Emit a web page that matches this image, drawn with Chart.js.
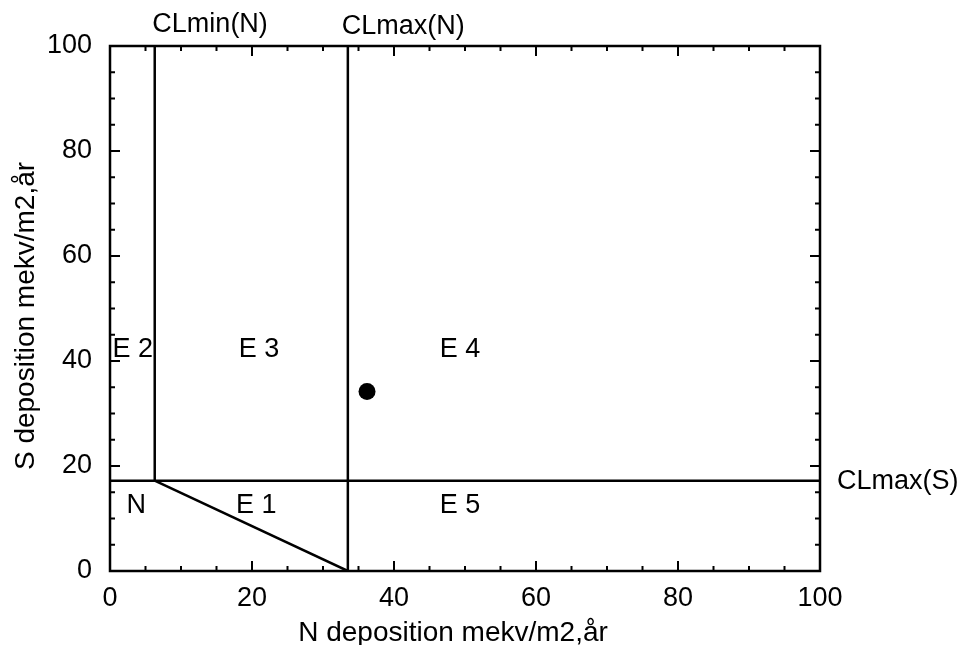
<!DOCTYPE html>
<html>
<head>
<meta charset="utf-8">
<script src="https://cdn.jsdelivr.net/npm/chart.js@4.4.1/dist/chart.umd.min.js"></script>
<style>
  html, body { margin: 0; padding: 0; background: #fff; }
  #chart { display: block; }
</style>
</head>
<body>
<canvas id="chart" width="964" height="645"></canvas>
<script>
// ============ DATA ============
const CL_MIN_N = 6.3;    // mekv/m2,år
const CL_MAX_N = 33.5;
const CL_MAX_S = 17.2;

const pointN = [36.2];
const pointS = [34.2];

const majorTicks = [0, 20, 40, 60, 80, 100];
const minorTicks = [5, 10, 15, 25, 30, 35, 45, 50, 55, 65, 70, 75, 85, 90, 95];

const regionTexts = ["E 2", "E 3", "E 4", "N", "E 1", "E 5", "CLmin(N)", "CLmax(N)", "CLmax(S)"];
const regionX     = [3.2, 21.0, 49.3, 3.7, 20.6, 49.3, 14.1, 41.3, 102.4];
const regionY     = [40.8, 40.8, 40.8, 11.1, 11.1, 11.1, 102.6, 102.3, 15.6];
const regionAlign = ["center", "center", "center", "center", "center", "center", "center", "center", "left"];

const X_TITLE = "N deposition mekv/m2,år";
const Y_TITLE = "S deposition mekv/m2,år";

const FONT = "Liberation Sans, Arial, Helvetica, sans-serif";

// ============ HELPERS ============
function lineSet(pts) {
  return {
    type: "scatter",
    data: pts,
    showLine: true,
    borderColor: "#000",
    borderWidth: 2.5,
    pointRadius: 0,
    fill: false
  };
}

const framePlugin = {
  id: "frame",
  afterDraw(chart) {
    const { ctx, chartArea: a, scales: { x, y } } = chart;
    ctx.save();
    ctx.strokeStyle = "#000";
    ctx.lineWidth = 2.5;
    ctx.strokeRect(a.left, a.top, a.right - a.left, a.bottom - a.top);

    ctx.lineWidth = 2;
    ctx.beginPath();
    const mark = (v, len) => {
      const px = x.getPixelForValue(v);
      ctx.moveTo(px, a.bottom); ctx.lineTo(px, a.bottom - len);
      ctx.moveTo(px, a.top); ctx.lineTo(px, a.top + len);
      const py = y.getPixelForValue(v);
      ctx.moveTo(a.left, py); ctx.lineTo(a.left + len, py);
      ctx.moveTo(a.right, py); ctx.lineTo(a.right - len, py);
    };
    majorTicks.forEach(v => mark(v, 10));
    minorTicks.forEach(v => mark(v, 5));
    ctx.stroke();

    ctx.fillStyle = "#000";
    ctx.font = "27px " + FONT;
    ctx.textBaseline = "alphabetic";
    regionTexts.forEach((t, i) => {
      ctx.textAlign = regionAlign[i];
      ctx.fillText(t, x.getPixelForValue(regionX[i]), y.getPixelForValue(regionY[i]));
    });

    ctx.font = "28px " + FONT;
    ctx.textAlign = "center";
    ctx.fillText(X_TITLE, 453, 641);
    ctx.translate(33.5, 316);
    ctx.rotate(-Math.PI / 2);
    ctx.fillText(Y_TITLE, 0, 0);
    ctx.restore();
  }
};

// ============ CHART ============
new Chart(document.getElementById("chart"), {
  type: "scatter",
  plugins: [framePlugin],
  data: {
    datasets: [
      lineSet([{ x: 0, y: CL_MAX_S }, { x: 100, y: CL_MAX_S }]),
      lineSet([{ x: CL_MIN_N, y: CL_MAX_S }, { x: CL_MIN_N, y: 100 }]),
      lineSet([{ x: CL_MAX_N, y: 0 }, { x: CL_MAX_N, y: 100 }]),
      lineSet([{ x: CL_MIN_N, y: CL_MAX_S }, { x: CL_MAX_N, y: 0 }]),
      {
        data: pointN.map((n, i) => ({ x: n, y: pointS[i] })),
        pointRadius: 8.5,
        pointBackgroundColor: "#000",
        pointBorderColor: "#000",
        pointBorderWidth: 0
      }
    ]
  },
  options: {
    responsive: false,
    animation: false,
    devicePixelRatio: 1,
    layout: { padding: { top: 46, right: 144, left: 0, bottom: 0 } },
    plugins: { legend: { display: false }, tooltip: { enabled: false } },
    scales: {
      x: {
        type: "linear",
        min: 0, max: 100,
        grid: { display: false, drawTicks: false },
        border: { display: false },
        ticks: { stepSize: 20, padding: 11, color: "#000", font: { family: FONT, size: 27 } },
        afterFit(s) { s.height = 74; }
      },
      y: {
        type: "linear",
        min: 0, max: 100,
        grid: { display: false, drawTicks: false },
        border: { display: false },
        ticks: { stepSize: 20, padding: 18, color: "#000", font: { family: FONT, size: 27 } },
        afterFit(s) { s.width = 110; }
      }
    }
  }
});
</script>
</body>
</html>
